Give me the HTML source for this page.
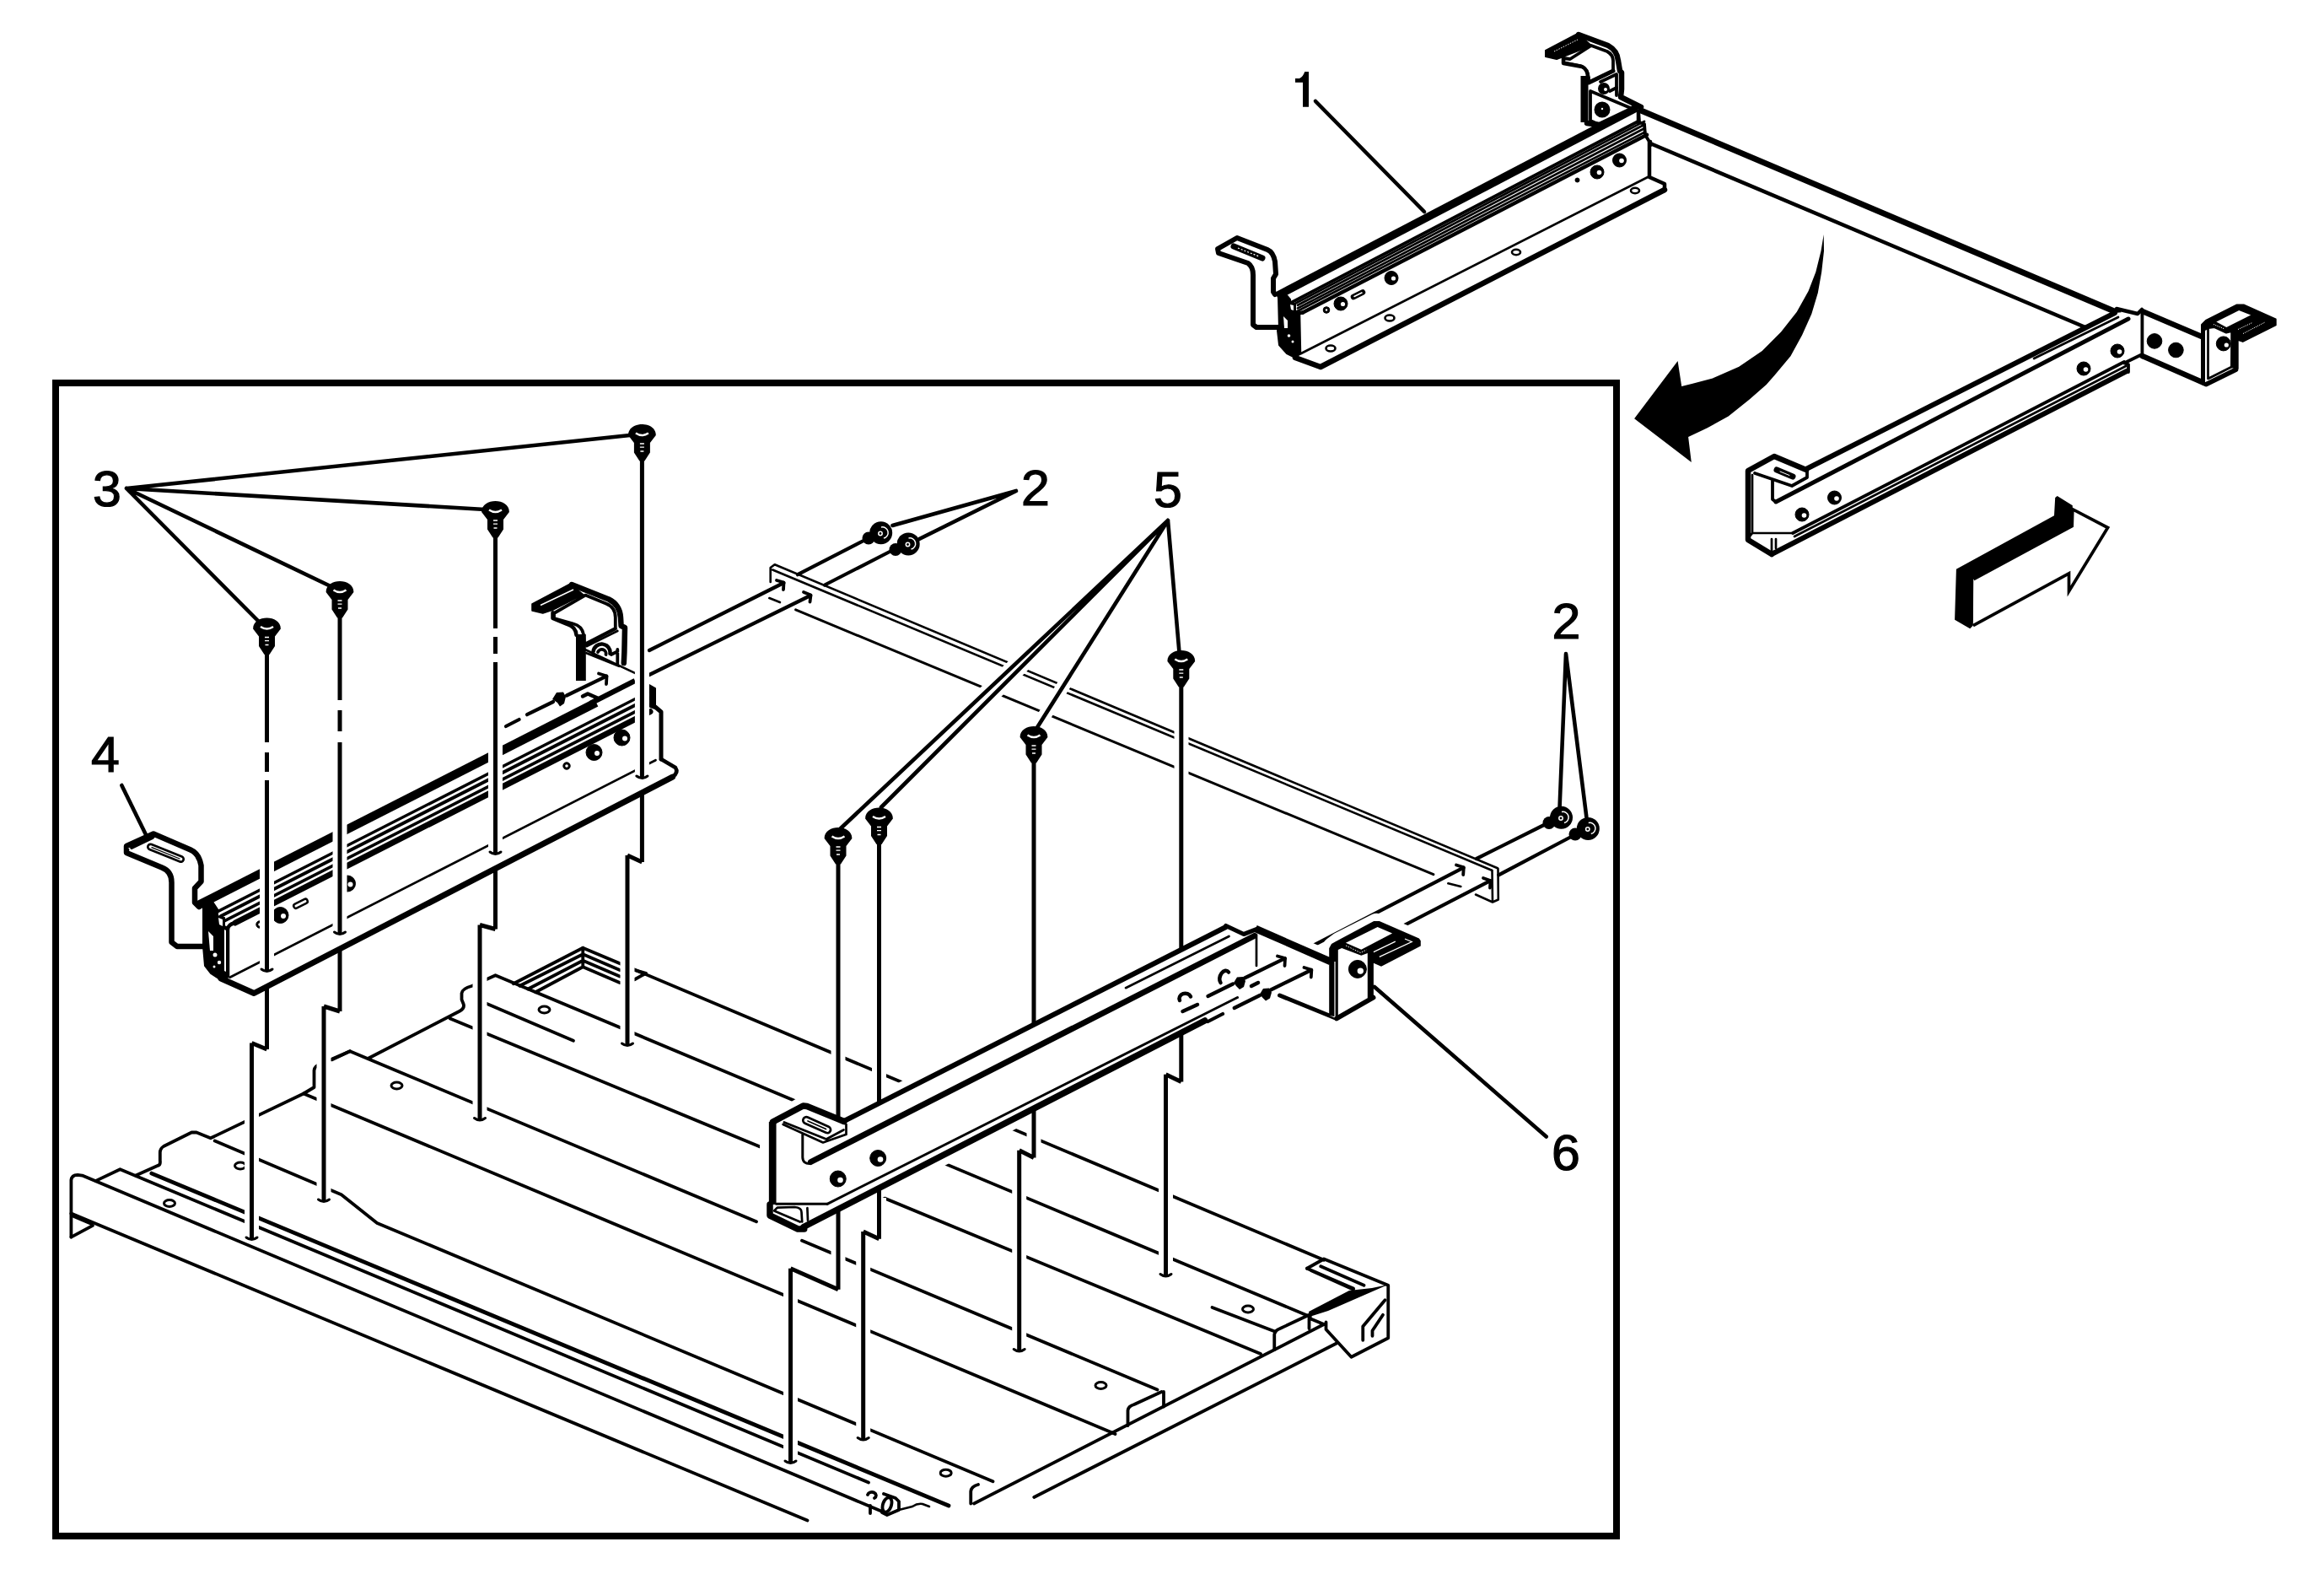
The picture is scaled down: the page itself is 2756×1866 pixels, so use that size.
<!DOCTYPE html>
<html><head><meta charset="utf-8"><title>Diagram</title>
<style>
html,body{margin:0;padding:0;background:#fff;}
body{width:2756px;height:1866px;overflow:hidden;}
svg{display:block;}
text{font-family:"Liberation Sans",sans-serif;font-size:58.5px;fill:#000;stroke:#000;stroke-width:1.2px;}
.l{fill:none;stroke:#000;stroke-width:3.8;stroke-linecap:round;stroke-linejoin:round;}
.t{fill:none;stroke:#000;stroke-width:2.7;stroke-linecap:round;stroke-linejoin:round;}
.m{fill:none;stroke:#000;stroke-width:4.5;stroke-linecap:round;stroke-linejoin:round;}
.h{fill:none;stroke:#000;stroke-width:6.5;stroke-linecap:round;stroke-linejoin:round;}
.w{fill:#fff;stroke:#000;stroke-width:3.8;stroke-linecap:round;stroke-linejoin:round;}
.wm{fill:#fff;stroke:#000;stroke-width:4;stroke-linecap:round;stroke-linejoin:round;}
.k{fill:#000;stroke:#000;stroke-width:2;stroke-linejoin:round;}
.b{fill:#000;stroke:none;}
.e{fill:#fff;stroke:none;}
</style></head><body>
<svg xmlns="http://www.w3.org/2000/svg" width="2756" height="1866" viewBox="0 0 2756 1866">
<rect x="0" y="0" width="2756" height="1866" fill="#fff"/>
<!-- 05_floor.svg -->
<g id="floor" class="l" style="stroke-width:3.800">
<!-- front lip -->
<path d="M84.400 1466.600L84.400 1399Q85 1393 92 1392.800L97.500 1393.600L1047.500 1792.500"/>
<path d="M84.400 1438.600L957.500 1802.500"/>
<path d="M84.400 1466.600L110 1452.900M86.900 1441.700L108.700 1451"/>
<!-- tab + L_330 -->
<path d="M113.700 1399.900L142.400 1386.200L1030 1757.500"/>
<!-- L_thick -->
<path style="stroke-width:4.800" d="M179.800 1391.100L1125 1785"/>
<!-- end profile -->
<path d="M161.100 1393.600L187.300 1381.800Q190.500 1381 189.800 1376L189.800 1366.200Q190 1361.500 194 1359L227.200 1342.500L233 1342.500L249.700 1349.300L360 1296.500L372.500 1289L372.500 1269Q373 1263.500 380 1261.500L415 1246.250"/>
<!-- L_760 with kink -->
<path d="M254.700 1352.500L404.800 1416.200L447.200 1449.900L1177.500 1756.250"/>
<!-- L_A -->
<path d="M360 1296.500L1322.500 1700"/>
<!-- L_B -->
<path d="M393.750 1256.250L415 1246.250L897 1448.200M951 1470.800L1372.500 1647.500"/>
<!-- E2 + notch + L_D -->
<path d="M436.250 1255L545 1198.750Q551.500 1195 549.500 1190L547.500 1185L547.500 1177.500Q548 1172 560 1168.750L587.500 1156.250L1553.750 1561"/>
<!-- L_C -->
<path d="M533.750 1207.500L1495 1605"/>
<!-- P5 -->
<path d="M577.500 1190L680 1233.750"/>
<!-- back box + L_F -->
<path d="M608.750 1166.250L691.250 1123.750L1570 1493.750"/>
<path d="M616.250 1168.750L691.250 1131.250L735 1150M626.250 1172.500L691.250 1138.750L735 1157.500M635 1176.200L691.250 1146.250L735 1165M691.250 1123.750L691.250 1146.250"/>
<path d="M752.500 1150L766 1153.750L752.500 1161.250"/>
<!-- L_E -->
<path d="M1437.500 1550L1512.500 1578.750"/>
<!-- right edge -->
<path d="M1151.250 1782.500L1151.250 1768Q1152 1762 1160 1760M1155 1782.500L1570 1570"/>
<path d="M1226.250 1775L1585 1592.500"/>
<!-- ridges -->
<path d="M1337.500 1690L1337.500 1672Q1338 1667 1345 1665L1377.500 1650M1380 1650L1380 1667.500"/>
<path d="M1511.250 1600L1511.250 1582Q1512 1577 1518 1575L1552.500 1558.750M1552.500 1562.500L1552.500 1575M1555 1563.750L1570 1570"/>
<!-- corner block -->
<path d="M1550 1503.750L1570 1492.500L1646.250 1523.750L1646.250 1586.250L1602.500 1608.750L1572.500 1576L1572.500 1567.500"/>
<path d="M1550 1503.750L1605 1527.500M1555 1506.250L1605 1528.750M1566.250 1501.250L1617.500 1523.750"/>
<path d="M1616.250 1588.750L1616.250 1572.500L1642.500 1541.250M1627.500 1583.750L1627.500 1577.500L1640 1558.750"/>
<path class="b" style="stroke:none" d="M1646 1523L1627 1527L1600 1530L1552 1555L1553 1561L1575 1554L1630 1530Z"/>
<!-- hinge -->
<path d="M1029 1772A5 4 0 1 1 1037 1776M1032 1785L1032 1794"/>
<path d="M1048 1771L1062 1776L1066 1780L1066 1790L1052 1796L1046 1793"/>
<ellipse cx="1052" cy="1784" rx="5" ry="9" transform="rotate(18 1052 1784)"/>
<path d="M1066 1790L1082 1786Q1088 1782 1094 1783L1102 1786" style="stroke-width:2.600"/>
<!-- holes -->
<g style="stroke-width:3">
<ellipse cx="201" cy="1426.500" rx="6.500" ry="4"/><ellipse cx="285" cy="1382" rx="6.500" ry="4"/>
<ellipse cx="470.500" cy="1287" rx="6.500" ry="4"/><ellipse cx="645.500" cy="1197" rx="6.500" ry="4"/>
<ellipse cx="1121.700" cy="1746.200" rx="6.500" ry="4"/><ellipse cx="1305.500" cy="1642.500" rx="6.500" ry="4"/><ellipse cx="1480" cy="1552" rx="6.500" ry="4"/>
</g>
</g>

<!-- 10_asm1_rail.svg -->
<g id="asm1-rail">
<!-- left hanger bracket -->
<path class="w" style="stroke-width:6" d="M1512 349L1510 346L1510 330L1513 325L1512 310Q1510 299 1503 296L1467 282L1444 295L1445 300L1480 312Q1486 316 1486 326L1486 385L1490 388L1516 388"/>
<path d="M1463 292L1497 306" stroke="#000" stroke-width="7" stroke-linecap="round" fill="none"/>
<path d="M1468 294L1493 304" stroke="#fff" stroke-width="1.2" stroke-dasharray="2 2" fill="none"/>
<!-- rail body fill -->
<path class="e" d="M1516 345L1888 154L1898 148L1940 134L1956 168L1956 210L1974 218L1974 226L1566 436L1540 424L1518 400Z"/>
<!-- top thick edge -->
<path class="h" style="stroke-width:9.4;stroke-linecap:butt" d="M1514.0 350.9L1941.0 127.7"/>
<path class="l" d="M1529.0 359.9L1943.0 143.7"/>
<path class="t" d="M1537.0 359.3L1950.0 143.9"/>
<path class="t" d="M1539.0 361.8L1950.0 147.7"/>
<path class="t" d="M1539.0 365.4L1950.0 152.3"/>
<path class="t" d="M1533.0 371.7L1951.0 156.4"/>
<path class="m" d="M1545.0 370.6L1953.0 159.8"/>
<path class="m" d="M1537 375Q1538 371 1545 370.500"/>
<!-- end cap left -->
<path class="k" d="M1516 352L1525 349L1530 355L1530 359L1536 360L1536 370L1540 372L1541 420L1536 424L1526 419L1517 409L1515 392L1517 391Z"/>
<path class="e" d="M1522 375L1527 380L1527 389L1523 389Z"/>
<circle class="e" cx="1528.500" cy="398" r="1.800"/>
<circle class="e" cx="1533" cy="405" r="1.500"/>
<path class="e" d="M1530 361L1534 362L1534 368L1531 367Z"/>
<!-- face bottom / flange -->
<path class="t" d="M1543 419L1954 210"/>
<path class="m" d="M1540 372L1541 419"/>
<path class="h" d="M1536 424L1566 435L1974 225"/>
<path class="m" d="M1956 168L1956 210L1974 218L1974 226"/>
<!-- right end -->
<path class="l" d="M1943 134L1944 145L1950 147L1951 160L1956 168"/>
<!-- face bolts -->
<g class="k" style="stroke-width:1">
<circle cx="1590" cy="360" r="8"/><circle cx="1650" cy="329.500" r="8"/>
<circle cx="1894" cy="204" r="8"/><circle cx="1920.500" cy="190" r="8"/>
<circle cx="1573" cy="367.500" r="3.800"/><circle cx="1870.500" cy="213.500" r="2.500"/>
</g>
<g class="e">
<circle cx="1592.500" cy="360.500" r="2.600"/><circle cx="1652.500" cy="330" r="2.600"/>
<circle cx="1896.500" cy="204.500" r="2.800"/><circle cx="1923" cy="190.500" r="2.800"/>
<circle cx="1573" cy="367.500" r="1.200"/>
</g>
<path d="M1605 352L1616 346.500" stroke="#000" stroke-width="6.500" stroke-linecap="round" fill="none"/>
<path d="M1606 351.500L1615 347" stroke="#fff" stroke-width="1.600" stroke-linecap="round" fill="none"/>
<!-- flange holes -->
<g class="w" style="stroke-width:2.600">
<ellipse cx="1578" cy="413" rx="5.500" ry="3.500"/><ellipse cx="1648" cy="377" rx="5.500" ry="3.500"/>
<ellipse cx="1798" cy="299" rx="5" ry="3.200"/><ellipse cx="1939" cy="226" rx="5" ry="3.200"/>
</g>
</g>

<!-- 11_asm1_rest.svg -->
<g id="asm1-rest">
<!-- top hanger with black tab -->
<path class="w" style="stroke-width:6.500" d="M1872 41L1907 54Q1918 60 1919 72L1921 84L1923 86L1923 106L1922 115L1946 127"/>
<path class="k" d="M1833 60L1871 40L1887 54L1846 70L1833 67Z"/>
<path d="M1843 61L1871 47" stroke="#fff" stroke-width="1" stroke-dasharray="1.500 1.500" fill="none"/>
<path class="w" d="M1887 54L1906 61Q1913 65 1913 72L1913 84L1884 98L1884 92Q1882 80 1874 78L1854 74L1854 69L1862 70Z"/>
<path d="M1879 90L1879 145" stroke="#000" stroke-width="9" fill="none"/>
<path class="m" d="M1854 69L1854 75L1876 79Q1883 82 1883 92"/>
<path class="h" style="stroke-width:5" d="M1884 98L1913 84"/>
<path class="l" d="M1898 97L1917 88L1917 113"/>
<circle class="k" cx="1902" cy="105" r="6"/><circle class="e" cx="1904" cy="106" r="2"/>
<path class="l" d="M1909 108L1917 104"/>
<!-- mounting plate -->
<path class="w" d="M1886 108L1936 129L1897 148L1886 143Z"/>
<circle class="k" cx="1900" cy="130" r="8.500"/><circle class="e" cx="1900" cy="129" r="1.200"/>
<path class="h" d="M1882 146L1897 148L1941 127"/>
<path class="m" d="M1943 132L1943 145"/>
<!-- cross bar -->
<path class="h" style="stroke-width:7" d="M1946 131L2512 371"/>
<path class="m" d="M1957 170L2473 388"/>
<path class="m" d="M1957 168L1957 172"/>
</g>

<!-- 12_asm1_rail2.svg -->
<g id="asm1-rail2">
<!-- right rail body -->
<path class="e" d="M2072 559L2104 541L2142 556L2508 371L2540 368L2540 420L2520 430L2522 440L2101 657L2072 640Z"/>
<path class="m" style="stroke-width:6" d="M2142 556L2508 371"/>
<path class="m" style="stroke-width:5" d="M2106 595L2524 378"/>
<path class="t" d="M2412 425L2512 376"/>
<path class="l" d="M2126 632L2519 429"/>
<path class="t" d="M2128 636L2521 434"/>
<path class="m" style="stroke-width:6" d="M2101 657L2522 440"/>
<!-- left end -->
<path class="m" style="stroke-width:6.500" d="M2142 557L2104 541L2073 558L2073 640L2101 657"/>
<path class="l" d="M2081 561L2125 576L2143 566L2143 557"/>
<path class="t" d="M2078 563L2078 632M2078 632L2126 632M2078 632L2072 639"/>
<path class="l" d="M2102 570L2102 592L2106 595"/>
<path class="t" d="M2101 639L2101 655M2106 639L2106 650"/>
<path d="M2107 557L2126 565" stroke="#000" stroke-width="7" stroke-linecap="round" fill="none"/>
<path d="M2111 559L2122 563.500" stroke="#fff" stroke-width="1" stroke-linecap="round" fill="none"/>
<!-- right end + Z bracket -->
<path class="m" d="M2510 366L2535 372L2540 367"/>
<path class="l" d="M2540.400 372L2540.400 420L2519 430.500L2524 432L2524 441"/>
<path class="h" style="stroke-width:6.500" d="M2540.400 369L2611 399"/>
<path class="h" style="stroke-width:6.500" d="M2540.400 422L2616 455"/>
<!-- box -->
<path class="e" d="M2612 386L2653 362L2699 379L2699 386L2654 404L2654 438L2617 455L2612 452Z"/>
<path class="k" d="M2611 385L2616 380L2652.700 361.500L2660.700 361.500L2698.700 378.400L2698.700 385.400L2659.700 404.900L2653.700 402.900L2653.700 437L2646 435L2646.300 393L2640 394.500L2626 388L2619 389L2612 392Z"/>
<path class="e" d="M2628.300 381.400L2655.200 368L2669.200 373.400L2640.300 388Z"/>
<path d="M2654 390.500L2671 382.500M2660 395.500L2686 382" stroke="#fff" stroke-width="1" stroke-dasharray="1.200 1.200" fill="none"/>
<path d="M2625 384.500L2638 390" stroke="#fff" stroke-width="1" stroke-dasharray="1.200 1.200" fill="none"/>
<path class="h" style="stroke-width:5" d="M2612.500 387L2612.500 454"/>
<path class="t" d="M2618.500 389L2618.500 449L2646.300 435"/>
<path class="h" style="stroke-width:5.500" d="M2616.500 455.500L2651.500 438.300"/>
<!-- bolts -->
<g class="k" style="stroke-width:1">
<circle cx="2137" cy="610" r="8"/><circle cx="2175.500" cy="590" r="8"/>
<circle cx="2471" cy="437" r="8"/><circle cx="2511" cy="416" r="8"/>
<circle cx="2555" cy="404.400" r="8.800"/><circle cx="2580.400" cy="415" r="8.800"/>
<circle cx="2636.800" cy="407.400" r="8.500"/>
</g>
<g class="e">
<circle cx="2139.500" cy="611" r="2.800"/><circle cx="2178" cy="591" r="2.800"/>
<circle cx="2473.500" cy="438" r="2.800"/><circle cx="2513.500" cy="417" r="2.800"/>
<circle cx="2640.300" cy="409" r="2.600"/>
</g>
</g>

<!-- 13_arrows.svg -->
<g id="arrows">
<path class="b" d="M2162.700 278L2163 297.400L2160.200 322.400L2155.800 347.300L2148.300 372.300L2137.100 397.300L2123.400 422.200L2104.600 444.700L2094.700 456L2074.700 473.600L2049.700 493.600L2024.800 507.300L2002.100 517.900L2005.800 547.900L1938.100 496.300L1989.600 428L1994.200 458L2007.300 454.700L2031 448.400L2062.200 434.700L2089.700 416L2112.100 393.500L2130.800 369.800L2144.600 344.900L2153.300 322.400L2159.500 297.400Z"/>
<path class="b" d="M2319.900 674.800L2436 611.200L2437.200 590L2439.700 588.100L2457.800 599.300L2457.200 623.700L2340.500 686.700L2339.900 741.600L2336.200 745.300L2318.100 734.700Z"/>
<path d="M2340.500 686.700L2457.200 623.700L2457.800 603.700L2499.600 625.500L2453.500 701L2453.500 679.800L2339.900 741.600" fill="#fff" stroke="#000" stroke-width="3.700" stroke-linejoin="miter"/>
</g>

<!-- 20_rail4.svg -->
<g id="rail4">
<path class="w" style="stroke-width:6.5" d="M236 1075L231 1070L231 1053L238.500 1045L238.500 1026Q236 1012 226 1007.500L182 988.500L150 1003L150 1011L192 1028.500Q203.500 1033 203.500 1046L203.500 1117L210 1122L244 1122"/>
<path class="l" d="M156 1005L181 993"/>
<path d="M178.500 1004L214.500 1018.500" stroke="#000" stroke-width="9" stroke-linecap="round" fill="none"/>
<path d="M178.500 1004L214.500 1018.500" stroke="#fff" stroke-width="3.600" stroke-linecap="round" fill="none"/>
<path d="M180 1004.600L213 1018" stroke="#000" stroke-width="1.200" stroke-linecap="round" fill="none"/>
<path class="e" d="M236 1064L755 808L784 845L784 900L802 912L797 922L301 1178L266 1163L244 1148L242 1076Z"/>
<path d="M235 1073.1L707 832.9" stroke="#000" stroke-width="10.2" fill="none"/>
<path d="M700 833.9L753 806.9" stroke="#000" stroke-width="6.2" fill="none"/>
<path d="M252.0 1083.8L771.0 819.6" stroke="#000" stroke-width="3.4" fill="none" stroke-linecap="round"/>
<path d="M262.0 1086.0L771.0 826.9" stroke="#000" stroke-width="4" fill="none" stroke-linecap="round"/>
<path d="M264.0 1092.9L771.0 834.8" stroke="#000" stroke-width="3.6" fill="none" stroke-linecap="round"/>
<path d="M279.0 1094.0L771.0 843.6" stroke="#000" stroke-width="7" fill="none" stroke-linecap="round"/>
<path class="m" d="M270 1157L270 1102.0Q270 1096.0 279 1094.0"/>
<path class="t" d="M272.500 1158.700L777.500 901.200"/>
<path class="h" style="stroke-width:7" d="M262 1160L301.200 1177.500L797.500 921.200"/>
<path class="m" d="M797.500 921.200Q805 916 801 910L784 900"/>
<path class="k" d="M770 812L777 816L777 840L771 838Z"/>
<path class="m" style="stroke-width:5" d="M777 838L784 844L784 900"/>
<path class="k" d="M241 1073L252 1069L258 1078L258 1086L266 1088L266 1098L270 1100L271 1158L264 1163L250 1154L243 1145L241 1122Z"/>
<path class="e" d="M247 1104L253 1110L253 1127L249 1127Z"/>
<path class="e" d="M259 1088L264 1090L264 1098L260 1096Z"/>
<circle class="e" cx="255" cy="1132" r="2.500"/><circle class="e" cx="260" cy="1141" r="2.200"/><circle class="e" cx="254" cy="1146" r="1.500"/>
<path class="e" d="M266 1102L268 1103L268 1152L266 1151Z"/>
<g class="k" style="stroke-width:1"><circle cx="332.500" cy="1085" r="9.500"/><circle cx="412" cy="1047.500" r="9.500"/><circle cx="704.500" cy="892" r="9.500"/><circle cx="737.500" cy="874.500" r="9.500"/><circle cx="672" cy="908" r="4.200"/><circle cx="308" cy="1096" r="4.200"/></g>
<g class="e"><circle cx="336" cy="1086" r="3"/><circle cx="415.500" cy="1048.500" r="3"/><circle cx="708" cy="893" r="3"/><circle cx="741" cy="875.500" r="3"/><circle cx="672" cy="908" r="1.800"/><circle cx="308" cy="1096" r="1.800"/></g>
<path d="M351 1074L362 1068.500" stroke="#000" stroke-width="8" stroke-linecap="round" fill="none"/>
<path d="M351 1074L362 1068.500" stroke="#fff" stroke-width="3" stroke-linecap="round" fill="none"/>
</g>

<!-- 21_rail4_hanger.svg -->
<g id="rail4-hanger">
<!-- dashed centre lines / stud 1 -->
<path class="m" style="stroke-width:4.200" d="M719.200 801.700L672 824.500M656 832L625 847.200M615.600 853L600 861"/>
<path class="l" d="M710 798.500L719.500 801.500L719 811"/>
<path class="b" d="M655 829L660 821L668 820.500L671 826L669 834L664 837.500L661 833Z"/>
<!-- strap (top hanger) -->
<path class="w" style="stroke-width:6.500" d="M678 693L722 710.500Q735 717 736 732L736.600 742L741 744L740.400 773L739.800 786"/>
<path class="k" d="M631.200 716.200L676.100 692.500L696.700 709.300L643.700 726.800L631.200 723.700Z"/>
<path d="M641 717.500L680 699M657.500 724L684 710.500" stroke="#fff" stroke-width="1.500" fill="none"/>
<path class="w" d="M694.200 705.600L718.500 715.600Q729.800 720 729.800 732L729.800 745L693 764L692 752Q690 742 680 739.500L657 733L657 727Z"/>
<path d="M688.900 752L688.900 807" stroke="#000" stroke-width="11.800" fill="none"/>
<path class="m" d="M655.500 726.200L655.500 733L672.400 739.900Q683 743 683.500 753"/>
<path class="t" d="M692.300 764.900L730.400 745.500M695.500 766.200L732.300 748"/>
<path class="t" d="M694.800 770.500L752.900 797.900M695.400 774.200L734.100 789.800"/>
<path class="m" d="M703.600 772.300A10 10 0 0 1 723.500 774.800"/>
<path class="l" d="M709 773A5 5 0 0 1 718.500 776"/>
<path class="l" d="M724.800 776L732.300 772.300M732.300 770L732.300 787.500"/>
<!-- chevron 2 -->
<path class="m" d="M691 825.500L697 822.500L708.500 827.500"/>
</g>

<!-- 30_crossbar.svg -->
<g id="crossbar">
<!-- long bolt lines (behind plates) -->
<path class="m" style="stroke-width:4.200" d="M1030 638L946 681.200M929.300 691L770 771"/>
<path class="m" style="stroke-width:4.200" d="M1060 651.500L978 693.500M961.100 706L770 800"/>
<path class="m" style="stroke-width:4.200" d="M1836 975.500L1751 1018M1735.500 1028.600L1522.500 1139"/>
<path class="m" style="stroke-width:4.200" d="M1866 990.500L1777.300 1037.300M1767.300 1044.200L1555 1154"/>
<!-- arrow heads at holes -->
<path class="l" d="M921 688L929.500 690.500L929 699"/>
<path class="l" d="M953 702L961.500 705.500L960.500 713.500"/>
<path class="l" d="M1727 1025.500L1735.800 1028.300L1735.200 1037"/>
<path class="l" d="M1759 1041L1767.500 1044L1767 1052.500"/>
<!-- bar -->
<path class="t" style="stroke-width:2.600" d="M913.700 690L913.700 673L918.700 669.200L1776 1029.200"/>
<path class="t" style="stroke-width:2.600" d="M916.200 675.500L1769.100 1031.700"/>
<path class="l" style="stroke-width:3" d="M943.600 722.900L1699.900 1036.700"/>
<path class="t" d="M912.400 709.100L924.900 714.100M1717.400 1047.300L1732.300 1051"/>
<path class="t" style="stroke-width:2.600" d="M1769.500 1032L1770 1069.500M1776.500 1030L1776.800 1066.500L1770 1069.500L1750 1060.500"/>
<!-- bolts -->
<g class="b">
<circle cx="1044.700" cy="631.800" r="13.500"/><circle cx="1030" cy="638" r="7.500"/>
<circle cx="1077.200" cy="644.900" r="13.500"/><circle cx="1062" cy="651.500" r="7.500"/>
<circle cx="1851.500" cy="969.300" r="13.500"/><circle cx="1837" cy="975.500" r="7.500"/>
<circle cx="1883.300" cy="982.400" r="13.500"/><circle cx="1868" cy="989" r="7.500"/>
</g>
<g fill="none" stroke="#fff" stroke-width="1.500">
<path d="M1045 625A6.500 6.500 0 0 1 1048 638"/><circle cx="1044" cy="632.500" r="2.200"/>
<path d="M1077.500 638A6.500 6.500 0 0 1 1080.500 651"/><circle cx="1076.500" cy="645.500" r="2.200"/>
<path d="M1852 962.500A6.500 6.500 0 0 1 1855 975.500"/><circle cx="1851" cy="970" r="2.200"/>
<path d="M1883.800 975.500A6.500 6.500 0 0 1 1886.800 988.500"/><circle cx="1882.800" cy="983" r="2.200"/>
</g>
</g>

<!-- 55_rail6_halo.svg -->
<g id="rail6-halo">
<path d="M912 1334L952.500 1310.600L1000 1329.500L1453.750 1097.500L1491 1101L1580 1140L1580 1122L1588 1116L1632.500 1093.700L1683.750 1115L1683.750 1121.200L1637.500 1143.700L1628.700 1143L1628.700 1182.500L1585 1207.500L1517.500 1180L1428.750 1210L952.500 1456.200L912 1440Z" fill="#fff" stroke="#fff" stroke-width="22" stroke-linejoin="round"/>
</g>

<!-- 60_screws.svg -->
<g id="screws">
<path d="M1401.0 862.0V922.0" stroke="#fff" stroke-width="17" fill="none"/><path d="M761.4 775.0V918.0" stroke="#fff" stroke-width="17" fill="none"/><path d="M587.5 880.0V1008.0" stroke="#fff" stroke-width="17" fill="none"/><path d="M403.0 968.0V1103.0" stroke="#fff" stroke-width="17" fill="none"/><path d="M316.5 1015.0V1147.0" stroke="#fff" stroke-width="17" fill="none"/><path d="M994.0 1445.0V1525.0" stroke="#fff" stroke-width="17" fill="none"/><path d="M1042.5 1420.0V1465.0" stroke="#fff" stroke-width="17" fill="none"/><path d="M1226.0 1325.0V1369.0" stroke="#fff" stroke-width="17" fill="none"/><path d="M1400.8 1235.0V1279.0" stroke="#fff" stroke-width="17" fill="none"/><path d="M994.0 1236.0V1268.0" stroke="#fff" stroke-width="17" fill="none"/><path d="M1042.5 1256.0V1290.0" stroke="#fff" stroke-width="17" fill="none"/><path d="M744.0 1030.0V1236.0" stroke="#fff" stroke-width="17" fill="none"/><path d="M569.0 1110.0V1325.0" stroke="#fff" stroke-width="17" fill="none"/><path d="M384.0 1205.0V1421.0" stroke="#fff" stroke-width="17" fill="none"/><path d="M298.5 1250.0V1466.0" stroke="#fff" stroke-width="17" fill="none"/><path d="M937.5 1515.0V1731.0" stroke="#fff" stroke-width="17" fill="none"/><path d="M1023.7 1472.0V1703.0" stroke="#fff" stroke-width="17" fill="none"/><path d="M1208.7 1376.0V1598.0" stroke="#fff" stroke-width="17" fill="none"/><path d="M1382.5 1286.0V1509.0" stroke="#fff" stroke-width="17" fill="none"/>
<path d="M754.9 920.0q6.500 5 13 0" class="l" style="stroke-width:3"/>
<path d="M737.5 1237.0q6.500 5 13 0" class="l" style="stroke-width:3"/>
<path d="M581.0 1010.0q6.500 5 13 0" class="l" style="stroke-width:3"/>
<path d="M562.5 1325.5q6.500 5 13 0" class="l" style="stroke-width:3"/>
<path d="M396.5 1105.0q6.500 5 13 0" class="l" style="stroke-width:3"/>
<path d="M377.5 1422.0q6.500 5 13 0" class="l" style="stroke-width:3"/>
<path d="M310.0 1149.0q6.500 5 13 0" class="l" style="stroke-width:3"/>
<path d="M292.0 1467.0q6.500 5 13 0" class="l" style="stroke-width:3"/>
<path d="M931.0 1732.0q6.500 5 13 0" class="l" style="stroke-width:3"/>
<path d="M1017.2 1704.5q6.500 5 13 0" class="l" style="stroke-width:3"/>
<path d="M1202.2 1599.5q6.500 5 13 0" class="l" style="stroke-width:3"/>
<path d="M1376.0 1510.5q6.500 5 13 0" class="l" style="stroke-width:3"/>
<path d="M761.4 546.0V922.0M761.4 942.0V1022.0M761.4 1022.0L744.0 1014.0M744.0 1014.0V1239.0M587.5 637.0V745.0M587.5 755.0V775.0M587.5 785.0V1012.0M587.5 1031.0V1101.5M587.5 1101.5L569.0 1096.5M569.0 1096.5V1327.5M403.0 732.0V830.0M403.0 842.0V867.0M403.0 880.0V1107.0M403.0 1127.0V1199.0M403.0 1199.0L384.0 1193.0M384.0 1193.0V1424.0M316.5 775.5V880.0M316.5 892.0V915.0M316.5 925.0V1151.0M316.5 1172.0V1244.0M316.5 1244.0L298.5 1236.5M298.5 1236.5V1469.0M994.0 1024.0V1326.0M994.0 1431.0V1528.7M994.0 1528.7L937.5 1503.7M937.5 1503.7V1734.0M1042.5 1000.5V1316.0M1042.5 1405.0V1468.7M1042.5 1468.7L1023.7 1460.0M1023.7 1460.0V1706.5M1226.0 904.0V1216.0M1226.0 1309.0V1372.5M1226.0 1372.5L1208.7 1363.7M1208.7 1363.7V1601.5M1400.8 814.0V1132.0M1400.8 1219.0V1282.5M1400.8 1282.5L1382.5 1273.7M1382.5 1273.7V1512.5" fill="none" stroke="#000" stroke-width="5" stroke-linejoin="miter"/>
<path class="b" d="M745.0 516.0C745.0 507.0 753.4 503.0 761.4 503.0C769.4 503.0 777.8 507.0 777.8 516.0L770.9 525.0L770.9 536.5L764.4 546.5L758.4 546.5L751.9 536.5L751.9 525.0Z"/>
<path d="M753.9 513.5q7.500 5 15 0" fill="none" stroke="#fff" stroke-width="2.400"/>
<path d="M758.9 526.0h5M758.9 530.2h5M759.4 535.0h4" fill="none" stroke="#fff" stroke-width="1.300"/>
<path class="b" d="M571.1 607.0C571.1 598.0 579.5 594.0 587.5 594.0C595.5 594.0 603.9 598.0 603.9 607.0L597.0 616.0L597.0 627.5L590.5 637.5L584.5 637.5L578.0 627.5L578.0 616.0Z"/>
<path d="M580.0 604.5q7.500 5 15 0" fill="none" stroke="#fff" stroke-width="2.400"/>
<path d="M585.0 617.0h5M585.0 621.2h5M585.5 626.0h4" fill="none" stroke="#fff" stroke-width="1.300"/>
<path class="b" d="M386.6 702.0C386.6 693.0 395.0 689.0 403.0 689.0C411.0 689.0 419.4 693.0 419.4 702.0L412.5 711.0L412.5 722.5L406.0 732.5L400.0 732.5L393.5 722.5L393.5 711.0Z"/>
<path d="M395.5 699.5q7.500 5 15 0" fill="none" stroke="#fff" stroke-width="2.400"/>
<path d="M400.5 712.0h5M400.5 716.2h5M401.0 721.0h4" fill="none" stroke="#fff" stroke-width="1.300"/>
<path class="b" d="M300.1 745.5C300.1 736.5 308.5 732.5 316.5 732.5C324.5 732.5 332.9 736.5 332.9 745.5L326.0 754.5L326.0 766.0L319.5 776.0L313.5 776.0L307.0 766.0L307.0 754.5Z"/>
<path d="M309.0 743.0q7.500 5 15 0" fill="none" stroke="#fff" stroke-width="2.400"/>
<path d="M314.0 755.5h5M314.0 759.7h5M314.5 764.5h4" fill="none" stroke="#fff" stroke-width="1.300"/>
<path class="b" d="M977.6 994.0C977.6 985.0 986.0 981.0 994.0 981.0C1002.0 981.0 1010.4 985.0 1010.4 994.0L1003.5 1003.0L1003.5 1014.5L997.0 1024.5L991.0 1024.5L984.5 1014.5L984.5 1003.0Z"/>
<path d="M986.5 991.5q7.500 5 15 0" fill="none" stroke="#fff" stroke-width="2.400"/>
<path d="M991.5 1004.0h5M991.5 1008.2h5M992.0 1013.0h4" fill="none" stroke="#fff" stroke-width="1.300"/>
<path class="b" d="M1026.1 970.5C1026.1 961.5 1034.5 957.5 1042.5 957.5C1050.5 957.5 1058.9 961.5 1058.9 970.5L1052.0 979.5L1052.0 991.0L1045.5 1001.0L1039.5 1001.0L1033.0 991.0L1033.0 979.5Z"/>
<path d="M1035.0 968.0q7.500 5 15 0" fill="none" stroke="#fff" stroke-width="2.400"/>
<path d="M1040.0 980.5h5M1040.0 984.7h5M1040.5 989.5h4" fill="none" stroke="#fff" stroke-width="1.300"/>
<path class="b" d="M1209.6 874.0C1209.6 865.0 1218.0 861.0 1226.0 861.0C1234.0 861.0 1242.4 865.0 1242.4 874.0L1235.5 883.0L1235.5 894.5L1229.0 904.5L1223.0 904.5L1216.5 894.5L1216.5 883.0Z"/>
<path d="M1218.5 871.5q7.500 5 15 0" fill="none" stroke="#fff" stroke-width="2.400"/>
<path d="M1223.5 884.0h5M1223.5 888.2h5M1224.0 893.0h4" fill="none" stroke="#fff" stroke-width="1.300"/>
<path class="b" d="M1384.4 784.0C1384.4 775.0 1392.8 771.0 1400.8 771.0C1408.8 771.0 1417.2 775.0 1417.2 784.0L1410.3 793.0L1410.3 804.5L1403.8 814.5L1397.8 814.5L1391.3 804.5L1391.3 793.0Z"/>
<path d="M1393.3 781.5q7.500 5 15 0" fill="none" stroke="#fff" stroke-width="2.400"/>
<path d="M1398.3 794.0h5M1398.3 798.2h5M1398.8 803.0h4" fill="none" stroke="#fff" stroke-width="1.300"/>
</g>

<!-- 70_rail6.svg -->
<g id="rail6">
<!-- bolt lines entering from crossbar are in crossbar part; body fill hides lines behind -->
<path class="e" d="M912 1334L952.500 1310.600L1000 1329.500L1453.750 1097.500L1491 1101L1580 1140L1580 1122L1588 1116L1632.500 1093.700L1683.750 1115L1683.750 1121.200L1637.500 1143.700L1628.700 1143L1628.700 1182.500L1585 1207.500L1517.500 1180L1428.750 1210L952.500 1456.200L911 1436Z"/>
<!-- main long lines -->
<path class="h" style="stroke-width:6.100" d="M1000 1329.500L1453.750 1099"/>
<path class="h" style="stroke-width:7" d="M961.500 1377.500L1487.500 1109.500"/>
<path class="t" d="M1335 1171.200L1457.500 1110"/>
<path class="t" style="stroke-width:3" d="M981 1427.300L1467.500 1182.500"/>
<path class="h" style="stroke-width:7.500" d="M953 1454.500L1428.750 1210"/>
<!-- left end -->
<path class="h" style="stroke-width:7.500;stroke-linejoin:round" d="M1001 1329.500L957 1311.500L952.400 1311L916.500 1330"/>
<path d="M916.200 1330L916.200 1428" stroke="#000" stroke-width="8.700" fill="none"/>
<path class="t" d="M929.900 1330.500L979.900 1350.500L1000.500 1339.500M928.600 1333L976 1354.500L1003 1345M1003.500 1333L1003.500 1345"/>
<path class="l" style="stroke-width:3" d="M951.800 1345L951.800 1372Q952 1380 961 1379.500"/>
<path d="M956.200 1328.100L981.100 1339.300" stroke="#000" stroke-width="10.500" stroke-linecap="round" fill="none"/>
<path d="M956.200 1328.100L981.100 1339.300" stroke="#fff" stroke-width="5" stroke-linecap="round" fill="none"/>
<path d="M958 1328.900L979.500 1338.600" stroke="#000" stroke-width="1.600" stroke-linecap="round" fill="none"/>
<path class="l" style="stroke-width:3" d="M920.600 1427.300L981.100 1427.300"/>
<path class="h" style="stroke-width:7.500;stroke-linejoin:round" d="M913 1428L913 1441L946.200 1457L953.700 1457"/>
<path class="t" d="M918.100 1435.400L921.800 1431.600L942.400 1431Q950.500 1431.500 950.500 1437L951.200 1448.500M918.100 1435.400L948.700 1448.500M957.400 1432.200L958 1446.600"/>
<!-- right end inner face + Z bracket -->
<path class="h" style="stroke-width:5.200" d="M1453.750 1097.500L1475 1107.500L1491.200 1101.200"/>
<path class="t" d="M1490 1108L1490 1145"/>
<path class="h" style="stroke-width:8.500;stroke-linecap:butt" d="M1489 1101L1578 1140"/>
<path class="m" style="stroke-width:5" d="M1517.500 1180L1585 1207.500"/>
<!-- hanger box -->
<path class="e" d="M1577.200 1124.300L1583.400 1116.500L1629.200 1092.100L1635.800 1092.100L1684.800 1115.200L1684.800 1121.500L1638 1145.800L1628.900 1141.700L1628.900 1183L1585 1207.500L1577 1204Z"/>
<path class="b" d="M1576.200 1204L1576.200 1124.300L1579 1119L1583.400 1116.500L1629.200 1092.100L1635.800 1092.100L1682.900 1112.400L1684.800 1115.200L1684.800 1121.500L1638 1145.800L1628.900 1141.700L1628.900 1183L1621.800 1183L1621.800 1129.900L1614.300 1132.700L1591.200 1124L1586.800 1126.100L1586.800 1205L1583.600 1205L1583.600 1140L1582.400 1140L1582.400 1205Z"/>
<path class="e" d="M1595.900 1117.700L1633.600 1099L1651.100 1106.500L1614.300 1125.800Z"/>
<path d="M1628.900 1128.600L1654.800 1116.200M1635.800 1134.300L1674.200 1116.500L1666 1113" stroke="#fff" stroke-width="1.300" fill="none"/>
<path d="M1596 1121L1613.500 1129.500L1620.500 1126" stroke="#fff" stroke-width="1" stroke-dasharray="1.500 1.500" fill="none"/>
<path class="h" style="stroke-width:5.500" d="M1585 1207.500L1628.700 1182.500"/>
<!-- bolts -->
<g class="k" style="stroke-width:1"><circle cx="993.750" cy="1397.500" r="9.500"/><circle cx="1041.200" cy="1373" r="9.500"/><circle cx="1609.900" cy="1148.900" r="10.500"/></g>
<g class="e"><circle cx="996.500" cy="1399" r="3.300"/><circle cx="1044" cy="1374.500" r="3.300"/><circle cx="1613.300" cy="1151.100" r="3.700"/></g>
<!-- studs + dashed lines on inner face -->
<path class="m" style="stroke-width:4.200" d="M1523.750 1136.200L1476 1159.500M1462 1166.500L1432.500 1181"/>
<path class="m" style="stroke-width:4.200" d="M1555 1150L1507 1173.500M1494 1180L1463.750 1195M1450 1202L1432.500 1211"/>
<path class="l" d="M1515 1133.500L1524 1136L1523.500 1145M1546.500 1147L1555.300 1149.800L1554.800 1158.500"/>
<path class="b" d="M1463 1165L1467 1158.500L1474 1158L1477 1163L1475 1170L1470 1173L1466 1169Z"/>
<path class="b" d="M1494 1178.500L1498 1172L1505 1171.500L1508 1176.500L1506 1183.500L1501 1186.500L1497 1182.500Z"/>
<path class="m" d="M1447.500 1165A5.500 8 20 0 1 1457 1152.500"/>
<path class="m" d="M1399 1186A7 6 0 0 1 1412 1181.500"/>
<path class="m" d="M1402.500 1199L1420 1191M1484 1169L1492 1165"/>
</g>

<!-- 90_labels.svg -->
<g id="labels">
<rect x="66" y="454" width="1851" height="1367" fill="none" stroke="#000" stroke-width="8"/>
<text transform="translate(110 600) scale(1.04 1)">3</text>
<text transform="translate(108 915) scale(1.04 1)">4</text>
<text transform="translate(1211 599) scale(1.04 1)">2</text>
<text transform="translate(1368 600.5) scale(1.04 1)">5</text>
<text transform="translate(1840.500 757) scale(1.04 1)">2</text>
<text transform="translate(1840 1387) scale(1.04 1)">6</text>
<path class="b" d="M1545 126.700L1552 126.700L1552 85L1547.200 85Q1546 90 1541 93L1536 93L1536 97.700L1545 97.700Z"/>
<path d="M1229.800 763L1128.900 857.900M1242.200 759.800L1153.800 848.200M1273.400 793.400L1237 851" stroke="#fff" stroke-width="16" fill="none"/>
<g class="l" style="stroke-width:4.600">
<path d="M150 579L747 516M150 579L575 604M150 579L392 695M150 579L306 736"/>
<path d="M144.300 931L173 989.500"/>
<path d="M1205 582L1058.400 623M1205 582L1089.600 639.300"/>
<path d="M1385 617L997 982M1385 617L1045 957M1385 617L1230.400 861.700M1385 617L1398.300 771.200"/>
<path d="M1857 775L1849.600 956.200M1857 775L1881.400 968.700"/>
<path d="M1630 1170L1833.700 1347.500"/>
<path d="M1560 120L1689 251"/>
</g>
</g>

</svg>
</body></html>
